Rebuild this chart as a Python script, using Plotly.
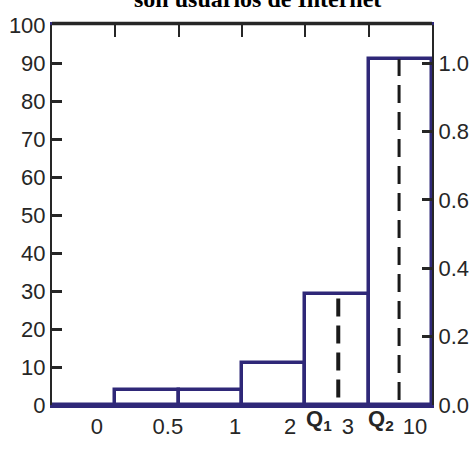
import plotly.graph_objects as go

# histogram bins (equal-width display bins) and their heights (%)
bins = [0, 1, 2, 3, 4, 5]
heights = [0, 3.9, 3.9, 11, 29.2, 91]
bin_edges = [0.5, 1.5, 2.5, 3.5, 4.5]

# bottom labels (irregular positions as printed)
label_pos = [0.21, 1.33, 2.39, 3.26, 4.17, 5.23]
label_text = ["0", "0.5", "1", "2", "3", "10"]

# quartile markers
q_names = ["Q<sub>1</sub>", "Q<sub>2</sub>"]
q_x = [4.02, 4.98]
q_top = [29, 91]
q_bottom = [2, 1.3]
q_label_x = [3.72, 4.7]

right_ticks = [0.0, 0.2, 0.4, 0.6, 0.8, 1.0]

navy = "#2f2878"
dark = "#262626"

fig = go.Figure()

fig.add_trace(go.Bar(
    x=bins, y=heights, width=1,
    marker=dict(color="rgba(0,0,0,0)", line=dict(color=navy, width=3.5)),
    showlegend=False, hoverinfo="skip",
))

for i in range(len(q_x)):
    fig.add_trace(go.Scatter(
        x=[q_x[i], q_x[i]], y=[q_bottom[i], q_top[i]],
        mode="lines",
        line=dict(color="#1a1a1a", width=4 if i == 0 else 3, dash="18px,9px"),
        showlegend=False, hoverinfo="skip",
    ))
    fig.add_annotation(
        x=q_label_x[i], y=0, xref="x", yref="y",
        text="<b>" + q_names[i] + "</b>", showarrow=False,
        yanchor="top", yshift=1,
        font=dict(family="Liberation Sans, Arial", size=22, color=dark),
    )

# dummy for right axis
fig.add_trace(go.Scatter(x=[None], y=[None], yaxis="y2", showlegend=False))

fig.add_annotation(
    x=0.54, y=1, xref="paper", yref="paper", yanchor="bottom", yshift=11,
    text="<b>son usuarios de Internet</b>", showarrow=False,
    font=dict(family="Liberation Serif, Times New Roman", size=24, color="black"),
)

# top frame line in dark gray (bottom one stays navy as bar baseline)
fig.add_shape(type="line", xref="paper", yref="paper", x0=0, x1=1,
              ysizemode="pixel", yanchor=1, y0=1.5, y1=1.5,
              line=dict(color=dark, width=3.5), layer="above")

fig.update_layout(
    width=475, height=450,
    margin=dict(l=52, r=43, t=25, b=45),
    plot_bgcolor="white", paper_bgcolor="white",
    font=dict(family="Liberation Sans, Arial", size=22, color=dark),
    bargap=0,
    xaxis=dict(
        range=[-0.5, 5.5], showgrid=False, zeroline=False, automargin=False,
        showline=True, linecolor=navy, linewidth=3, mirror="ticks",
        tickvals=label_pos, ticktext=label_text, ticks="",
        minor=dict(tickvals=bin_edges, ticks="inside", ticklen=12,
                   tickwidth=2, tickcolor=dark),
        layer="below traces",
    ),
    yaxis=dict(
        range=[0, 100], dtick=10, showgrid=False, zeroline=False, automargin=False,
        showline=True, linecolor=dark, linewidth=2,
        ticks="inside", ticklen=10, tickwidth=3, tickcolor=dark,
        ticklabelstandoff=0,
    ),
    yaxis2=dict(
        overlaying="y", side="right", range=[0, 1 / 0.9], automargin=False,
        tickvals=right_ticks, tickformat=".1f", showgrid=False, zeroline=False,
        showline=True, linecolor=dark, linewidth=2,
        ticks="inside", ticklen=10, tickwidth=3, tickcolor=dark,
        ticklabelstandoff=0,
    ),
)

fig.write_html("out.html", config={"displayModeBar": False},
               post_script="document.body.style.margin='0';")
